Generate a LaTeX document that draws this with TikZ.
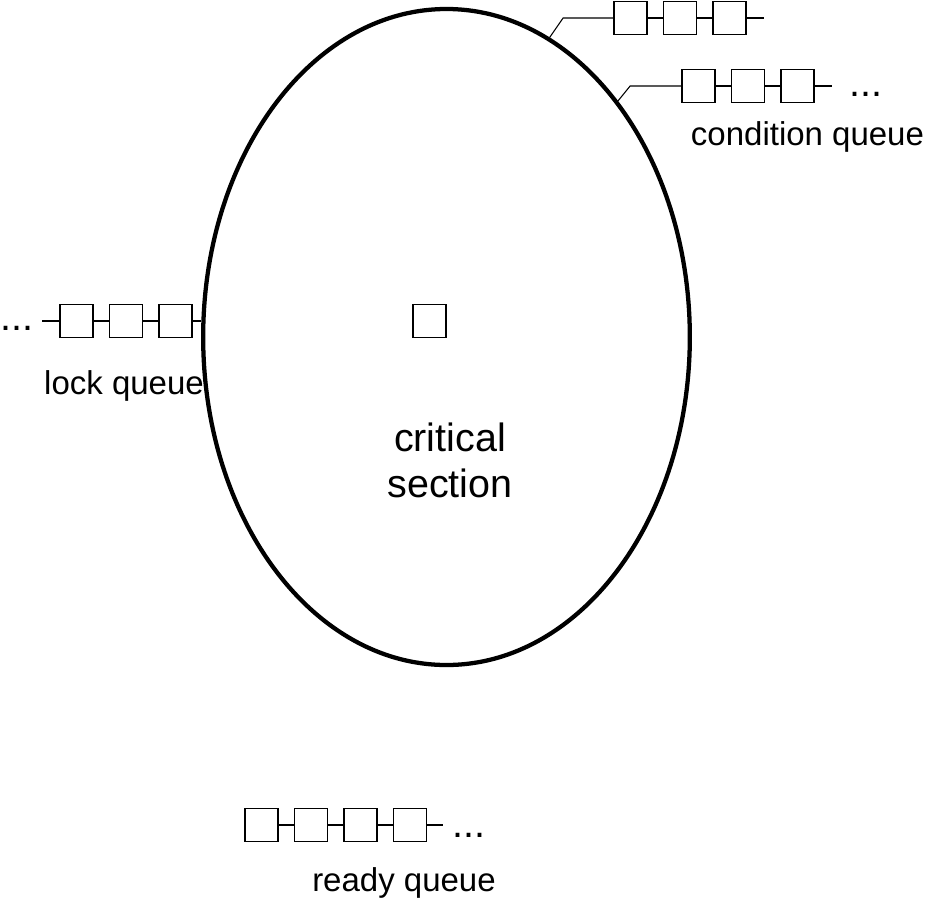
\documentclass[tikz,border=0pt]{standalone}
\usepackage{fontspec}
\setmainfont{Liberation Sans}
\usetikzlibrary{positioning, shapes.geometric}

\begin{document}
\begin{tikzpicture}[x=0.75pt, y=-0.75pt, node distance=11pt]
    \tikzstyle{slot} = [draw, line width=1.1pt, minimum size=25pt, inner sep=0pt]
    \tikzstyle{link} = [line width=0.8pt]
    \tikzstyle{caption} = [font=\fontsize{24.75pt}{30pt}\selectfont, anchor=base, inner sep=0pt]
    \tikzstyle{dots} = [font=\fontsize{29.6pt}{36pt}\selectfont, anchor=base west, inner sep=0pt]
    \useasboundingbox (0,0) rectangle (926,901);
    \node [draw, ellipse, line width=3.2pt, minimum width=365pt,
    minimum height=492pt, inner sep=0pt] at (446.5,337) (monitor) {};
    % upper condition queue
    \node [slot] at (630.5,18) (top1) {};
    \node [slot, right=of top1] (top2) {};
    \node [slot, right=of top2] (top3) {};
    \draw[link] (top1.west) -- ++(-50,0) -- (monitor.71.6);
    \draw[link] (top1) -- (top2);
    \draw[link] (top2) -- (top3);
    \draw[link] (top3.east) -- ++(17,0);
    % condition queue
    \node [slot] at (698.5,86) (cond1) {};
    \node [slot, right=of cond1] (cond2) {};
    \node [slot, right=of cond2] (cond3) {};
    \draw[link] (cond1.west) -- ++(-51,0) -- (monitor.54.4);
    \draw[link] (cond1) -- (cond2);
    \draw[link] (cond2) -- (cond3);
    \draw[link] (cond3.east) -- ++(17,0);
    \node [dots] at (849,96) (conddots) {...};
    \node [caption] at (807.5,145) (condlabel) {condition queue};
    % lock queue
    \node [slot] at (76.5,321) (lock1) {};
    \node [slot, right=of lock1] (lock2) {};
    \node [slot, right=of lock2] (lock3) {};
    \draw[link] (lock1.west) -- ++(-17,0);
    \draw[link] (lock1) -- (lock2);
    \draw[link] (lock2) -- (lock3);
    \draw[link] (lock3) -- (lock3 -| monitor.west);
    \node [dots] at (0,330) (lockdots) {...};
    \node [caption] at (124,394) (locklabel) {lock queue};
    % inside the monitor
    \node [slot] at (429.5,321) (owner) {};
    \node [font=\fontsize{29.6pt}{34pt}\selectfont, align=center,
    anchor=base, inner sep=0pt] at (450,497) (cs) {critical\\section};
    % ready queue
    \node [slot] at (261.5,825) (ready1) {};
    \node [slot, right=of ready1] (ready2) {};
    \node [slot, right=of ready2] (ready3) {};
    \node [slot, right=of ready3] (ready4) {};
    \draw[link] (ready1) -- (ready2);
    \draw[link] (ready2) -- (ready3);
    \draw[link] (ready3) -- (ready4);
    \draw[link] (ready4.east) -- ++(16,0);
    \node [dots] at (452,837) (readydots) {...};
    \node [caption] at (404,891) (readylabel) {ready queue};
\end{tikzpicture}
\end{document}
